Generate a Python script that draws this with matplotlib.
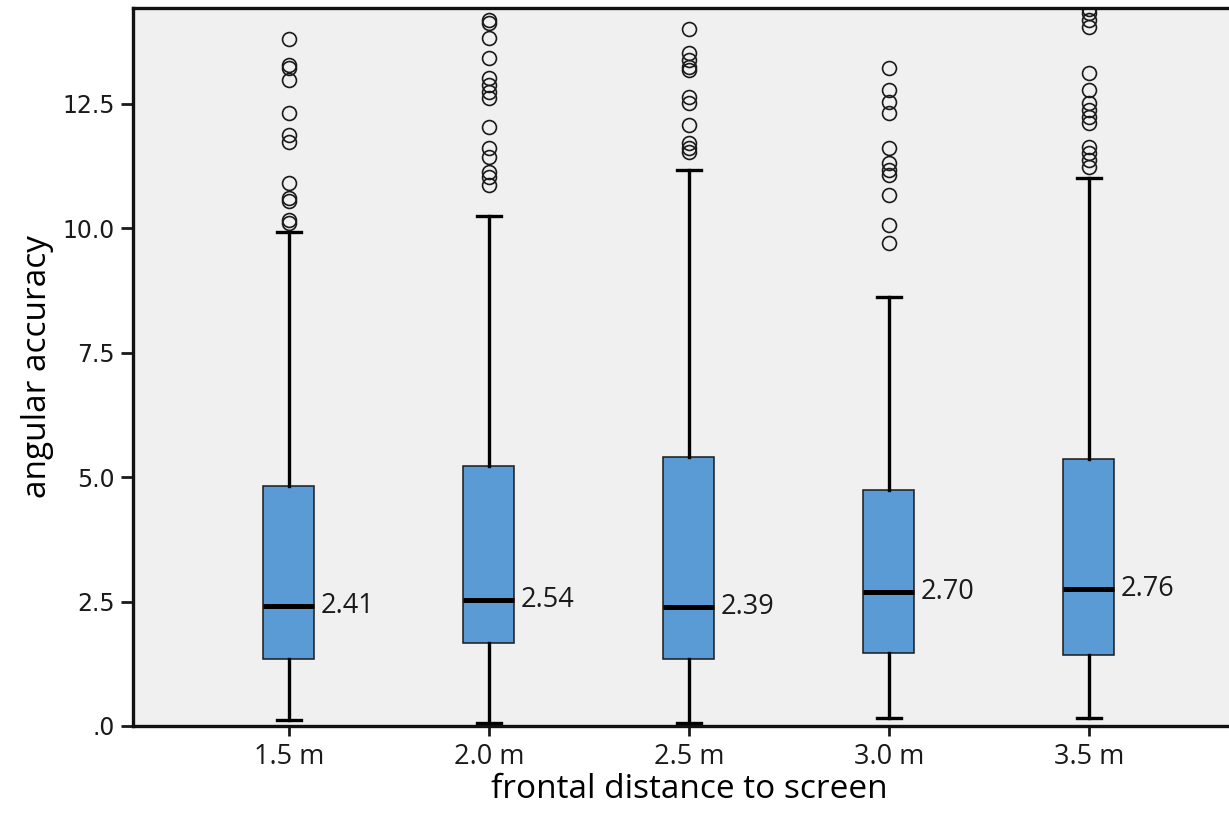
#!/usr/bin/env python3
"""
Box plot of angular accuracy by frontal distance to screen.
"""

import matplotlib
matplotlib.use('Agg')
import matplotlib.pyplot as plt

# Data
distances = ['1.5 m', '2.0 m', '2.5 m', '3.0 m', '3.5 m']
medians = [2.41, 2.54, 2.39, 2.70, 2.76]
q1 = [1.35, 1.67, 1.35, 1.47, 1.43]
q3 = [4.82, 5.22, 5.40, 4.74, 5.36]
whisker_low = [0.12, 0.06, 0.06, 0.16, 0.16]
whisker_high = [9.92, 10.24, 11.16, 8.61, 11.00]

outliers_15 = [13.80, 13.27, 13.21, 12.97, 12.31, 11.87, 11.73, 10.90, 10.60, 10.55, 10.16, 10.10]
outliers_20 = [14.18, 14.12, 13.82, 13.41, 13.01, 12.87, 12.73, 12.61, 12.03, 11.61, 11.43,
               11.12, 11.02, 10.86]
outliers_25 = [14.00, 13.51, 13.37, 13.23, 13.17, 12.63, 12.51, 12.07, 11.71, 11.61, 11.53]
outliers_30 = [13.21, 12.77, 12.53, 12.31, 11.61, 11.31, 11.16, 11.06, 10.66, 10.06, 9.70]
outliers_35 = [14.40, 14.32, 14.18, 14.04, 13.11, 12.77, 12.51, 12.37, 12.23, 12.11, 11.63,
               11.51, 11.37, 11.22]
outliers = [outliers_15, outliers_20, outliers_25, outliers_30, outliers_35]

y_ticks = [0, 2.5, 5.0, 7.5, 10.0, 12.5]
y_tick_labels = ['.0', '2.5', '5.0', '7.5', '10.0', '12.5']

label_font = ['Open Sans', 'DejaVu Sans']

fig = plt.figure(figsize=(12.29, 8.16), dpi=100)
ax = fig.add_axes([0.1082, 0.1103, 0.9048, 0.880])
ax.set_facecolor('#f0f0f0')

positions = list(range(1, len(distances) + 1))
stats = []
for i in range(len(distances)):
    stats.append(dict(med=medians[i], q1=q1[i], q3=q3[i],
                      whislo=whisker_low[i], whishi=whisker_high[i],
                      fliers=outliers[i]))

ax.bxp(stats, positions=positions, widths=0.255, capwidths=0.12, patch_artist=True,
       boxprops=dict(facecolor='#5b9bd5', edgecolor='#1a1a1a', linewidth=1.1),
       whiskerprops=dict(color='black', linewidth=2.4),
       capprops=dict(color='black', linewidth=2.4),
       medianprops=dict(color='black', linewidth=3.6, solid_capstyle='butt'),
       flierprops=dict(marker='o', markersize=10, markerfacecolor='none',
                       markeredgecolor='#1a1a1a', markeredgewidth=1.2))

# Median labels next to each box
for pos, med in zip(positions, medians):
    ax.text(pos + 0.16, med, f'{med:.2f}', ha='left', va='center',
            fontsize=19.5, family=label_font, color='#1a1a1a')

ax.set_xlim(0.22, 5.78)
ax.set_ylim(0, 14.42)
ax.set_xticks(positions)
ax.set_xticklabels(distances, fontsize=19.5, family=label_font)
ax.set_yticks(y_ticks)
ax.set_yticklabels(y_tick_labels, fontsize=17, family='DejaVu Sans')

ax.tick_params(axis='y', direction='out', length=9, width=2, pad=4, colors='#1a1a1a')
ax.tick_params(axis='x', direction='out', length=7, width=2, pad=5, colors='#1a1a1a')

for side in ['left', 'bottom', 'top', 'right']:
    ax.spines[side].set_linewidth(2.4)
    ax.spines[side].set_color('#111111')

ax.set_xlabel('frontal distance to screen', fontsize=24, family=label_font, labelpad=2)
ax.set_ylabel('angular accuracy', fontsize=24, family=label_font, labelpad=6)

fig.savefig('out.png', dpi=100)
plt.close(fig)
